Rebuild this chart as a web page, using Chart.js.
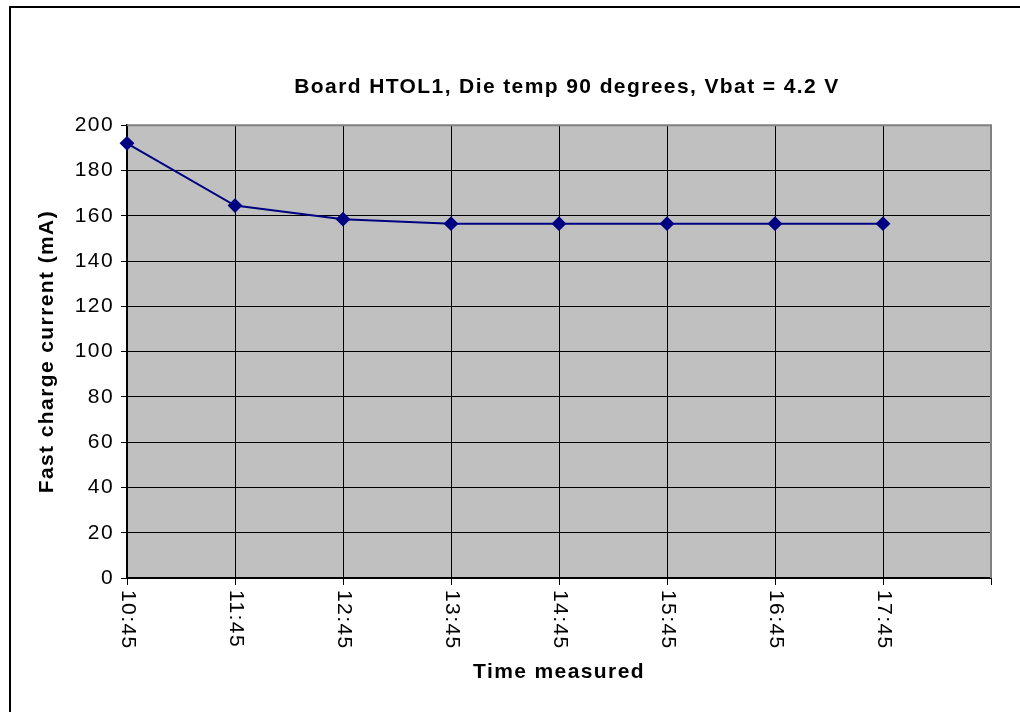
<!DOCTYPE html>
<html><head><meta charset="utf-8">
<script src="https://cdn.jsdelivr.net/npm/chart.js@4/dist/chart.umd.min.js"></script>
<style>html,body{margin:0;padding:0;background:#fff;overflow:hidden}#wrap{width:1020px;height:712px;position:relative}</style>
</head><body><div id="wrap"><canvas id="c" width="1020" height="712"></canvas></div>
<script>
const timeLabels = ['10:45','11:45','12:45','13:45','14:45','15:45','16:45','17:45',''];
const chargeCurrent = [192, 164.5, 158.5, 156.5, 156.5, 156.5, 156.5, 156.5, null];
const yMin = 0, yMax = 200, yStep = 20;
const chartTitle = 'Board HTOL1, Die temp 90 degrees, Vbat = 4.2 V';
const xTitle = 'Time measured';
const yTitle = 'Fast charge current (mA)';

const FAMILY = "'Liberation Sans', Arial, sans-serif";
const FS = 21;
const LS = '1.4px';
const setLS = (chart) => { chart.ctx.letterSpacing = LS; };

const framePlugin = {
  id: 'frame',
  beforeUpdate: setLS,
  beforeLayout: setLS,
  afterLayout(chart) {
    const tb = chart.titleBlock;
    if (tb) { tb.left += 8; tb.right += 8; }
  },
  beforeDraw(chart) {
    setLS(chart);
    const {ctx, chartArea: a} = chart;
    ctx.save();
    ctx.fillStyle = '#ffffff';
    ctx.fillRect(0, 0, chart.width, chart.height);
    ctx.strokeStyle = '#000';
    ctx.lineWidth = 2;
    ctx.beginPath();
    ctx.moveTo(10, chart.height + 5);
    ctx.lineTo(10, 7);
    ctx.lineTo(chart.width + 5, 7);
    ctx.stroke();
    ctx.fillStyle = '#c0c0c0';
    ctx.fillRect(a.left, a.top, a.right - a.left, a.bottom - a.top);
    ctx.restore();
  },
  afterDatasetsDraw(chart) {
    const {ctx, chartArea: a} = chart;
    ctx.save();
    ctx.strokeStyle = '#808080';
    ctx.lineWidth = 2;
    ctx.beginPath();
    ctx.moveTo(a.left, a.top);
    ctx.lineTo(a.right, a.top);
    ctx.lineTo(a.right, a.bottom);
    ctx.stroke();
    // x tick labels, rotated clockwise (top-to-bottom reading)
    const xs = chart.scales.x;
    ctx.fillStyle = '#000';
    ctx.font = FS + 'px ' + FAMILY;
    ctx.letterSpacing = LS;
    ctx.textAlign = 'left';
    ctx.textBaseline = 'middle';
    timeLabels.forEach((lab, i) => {
      if (!lab) return;
      const x = xs.getPixelForTick(i);
      ctx.save();
      ctx.translate(x + 1, a.bottom + 12);
      ctx.rotate(Math.PI / 2);
      ctx.fillText(lab, 0, 0);
      ctx.restore();
    });
    ctx.restore();
  }
};

new Chart(document.getElementById('c'), {
  type: 'line',
  data: {
    labels: timeLabels,
    datasets: [{
      data: chargeCurrent,
      borderColor: '#000080',
      backgroundColor: '#000080',
      borderWidth: 2,
      pointStyle: 'rectRot',
      pointRadius: 6,
      pointBackgroundColor: '#000080',
      pointBorderColor: '#000080',
      tension: 0,
      fill: false
    }]
  },
  options: {
    responsive: false,
    animation: false,
    devicePixelRatio: 1,
    layout: { padding: { left: 10, right: 29, top: 0, bottom: 0 } },
    plugins: {
      legend: { display: false },
      tooltip: { enabled: false },
      title: {
        display: true,
        text: chartTitle,
        fullSize: false,
        color: '#000',
        font: { family: FAMILY, size: FS, weight: 'bold' },
        padding: { top: 75, bottom: 25 }
      }
    },
    scales: {
      x: {
        type: 'category',
        offset: false,
        grid: { color: '#000', lineWidth: 1, offset: false, tickLength: 7, drawTicks: true },
        border: { color: '#000', width: 2 },
        ticks: { display: false, autoSkip: false },
        title: {
          display: true, text: xTitle, color: '#000',
          font: { family: FAMILY, size: FS, weight: 'bold' },
          padding: { top: 0, bottom: 27 }
        },
        afterFit(s) { s.height = 134; }
      },
      y: {
        min: yMin, max: yMax,
        ticks: { stepSize: yStep, color: '#000', padding: 7, font: { family: FAMILY, size: FS } },
        grid: { color: '#000', lineWidth: 1, tickLength: 6 },
        border: { color: '#000', width: 2 },
        title: {
          display: true, text: yTitle, color: '#000',
          font: { family: FAMILY, size: FS, weight: 'bold' },
          padding: { top: 25, bottom: 0 }
        },
        afterFit(s) { s.width = 117; }
      }
    }
  },
  plugins: [framePlugin]
});
</script>
</body></html>
